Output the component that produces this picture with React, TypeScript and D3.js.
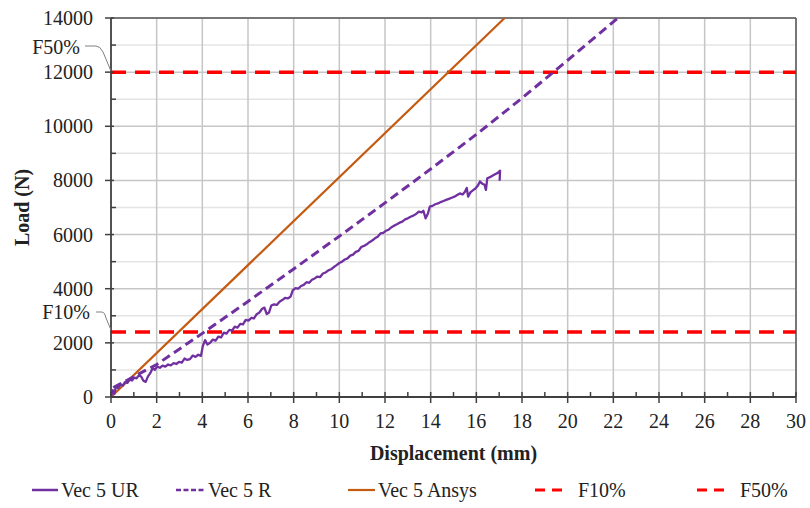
import React from "react";
import * as d3 from "d3";

// Vec 5 UR – measured load/displacement record
const urDisp = [
  0.0, 0.08, 0.15, 0.22, 0.32, 0.42, 0.52, 0.62, 0.72, 0.82, 0.92, 1.02, 1.12, 1.22, 1.32, 1.42, 1.52,
  1.62, 1.72, 1.82, 1.92, 2.02, 2.14, 2.26, 2.38, 2.5, 2.62, 2.74, 2.86, 2.98, 3.1, 3.22, 3.34, 3.46,
  3.58, 3.7, 3.82, 3.94, 4.02, 4.12, 4.22, 4.34, 4.46, 4.58, 4.7, 4.82, 4.94, 5.06, 5.18, 5.3, 5.42,
  5.54, 5.66, 5.78, 5.9, 6.02, 6.14, 6.26, 6.38, 6.5, 6.62, 6.72, 6.82, 6.92, 7.02, 7.14, 7.26, 7.38,
  7.5, 7.62, 7.74, 7.86, 7.96, 8.08, 8.2, 8.32, 8.44, 8.56, 8.68, 8.8, 8.92, 9.04, 9.16, 9.28, 9.4,
  9.52, 9.64, 9.76, 9.88, 10.0, 10.12, 10.24, 10.36, 10.48, 10.6, 10.72, 10.84, 10.96, 11.08, 11.2,
  11.32, 11.44, 11.56, 11.68, 11.8, 11.92, 12.04, 12.16, 12.28, 12.4, 12.52, 12.64, 12.76, 12.88, 13.0,
  13.12, 13.24, 13.36, 13.48, 13.6, 13.68, 13.78, 13.88, 13.96, 14.08, 14.2, 14.32, 14.44, 14.56,
  14.68, 14.8, 14.92, 15.04, 15.16, 15.28, 15.4, 15.5, 15.58, 15.64, 15.74, 15.86, 15.96, 16.06,
  16.16, 16.26, 16.36, 16.42, 16.48, 16.6, 16.72, 16.84, 16.94, 17.04, 17.02,
];
const urLoad = [
  0, 250, 120, 400, 330, 470, 420, 560, 520, 640, 610, 720, 690, 800, 760, 600, 560,
  760, 880, 1060, 1000, 1120, 1080, 1160, 1120, 1200, 1170, 1250, 1220, 1300, 1270, 1420, 1370, 1400,
  1530, 1480, 1560, 1520, 1880, 2100, 1940, 2000, 2120, 2080, 2230, 2200, 2380, 2340, 2480, 2450, 2600,
  2560, 2700, 2680, 2850, 2820, 2920, 2900, 3060, 3120, 3260, 3300, 3060, 3120, 3380, 3420, 3400, 3520,
  3580, 3660, 3640, 3700, 3940, 4020, 4000, 4100, 4140, 4240, 4220, 4330, 4380, 4450, 4430, 4560, 4600,
  4680, 4720, 4800, 4870, 4950, 5000, 5080, 5120, 5220, 5260, 5360, 5400, 5540, 5580, 5640,
  5720, 5780, 5860, 5920, 6040, 6060, 6140, 6180, 6270, 6330, 6380, 6440, 6480, 6560, 6600,
  6660, 6700, 6760, 6850, 6820, 6880, 6600, 6780, 7030, 7060, 7120, 7150, 7200, 7240,
  7280, 7320, 7360, 7400, 7460, 7520, 7480, 7580, 7720, 7400, 7560, 7640, 7700, 7800,
  7960, 7880, 7840, 7650, 8080, 8120, 8180, 8240, 8280, 8360, 7990,
];

// Vec 5 R
const rDisp = [0.1, 2, 4, 6, 8, 10, 12, 14, 16, 18, 20, 22.2];
const rLoad = [350, 1200, 2350, 3530, 4730, 5940, 7170, 8420, 9700, 11040, 12440, 14000];

// Vec 5 Ansys
const ansysDisp = [0, 17.24];
const ansysLoad = [0, 14000];

// Reference load levels
const F10 = 2400;
const F50 = 12000;

const xTicks = d3.range(0, 31, 2);
const xMinor = d3.range(1, 30, 2);
const yTicks = d3.range(0, 14001, 2000);
const yMinor = d3.range(1000, 14000, 2000);

const W = 810;
const H = 508;
const L = 111;
const R = 796;
const T = 18;
const B = 397;

const FONT = "'Liberation Serif', 'Times New Roman', serif";
const PURPLE = "#7030a0";
const ORANGE = "#c55a11";
const RED = "#ff0000";

export default function App() {
  const x = d3.scaleLinear().domain([0, 30]).range([L, R]);
  const y = d3.scaleLinear().domain([0, 14000]).range([B, T]);

  const line = d3
    .line<[number, number]>()
    .x((d) => x(d[0]))
    .y((d) => y(d[1]));

  const ur = line(urDisp.map((v, i) => [v, urLoad[i]]) as [number, number][]) || "";
  const rr = line(rDisp.map((v, i) => [v, rLoad[i]]) as [number, number][]) || "";
  const an = line(ansysDisp.map((v, i) => [v, ansysLoad[i]]) as [number, number][]) || "";

  const legend = [
    { label: "Vec 5 UR", color: PURPLE, dash: "", width: 2.5, x0: 32, x1: 58, tx: 61 },
    { label: "Vec 5 R", color: PURPLE, dash: "5,2.5", width: 2.5, x0: 176, x1: 205, tx: 208 },
    { label: "Vec 5 Ansys", color: ORANGE, dash: "", width: 2.2, x0: 348, x1: 375, tx: 378 },
    { label: "F10%", color: RED, dash: "10,7", width: 3, x0: 535, x1: 565, tx: 578 },
    { label: "F50%", color: RED, dash: "10,7", width: 3, x0: 697, x1: 727, tx: 740 },
  ];

  return (
    <svg
      width={W}
      height={H}
      style={{ position: "absolute", left: 0, top: 0, background: "#fff" }}
      fontFamily={FONT}
    >
      <defs>
        <clipPath id="plot">
          <rect x={L} y={T} width={R - L} height={B - T} />
        </clipPath>
      </defs>

      {/* grid */}
      {yMinor.map((v) => (
        <line key={"gm" + v} x1={L} x2={R} y1={y(v)} y2={y(v)} stroke="#e4e4e4" strokeWidth={1.5} />
      ))}
      {yTicks.slice(1).map((v) => (
        <line key={"gy" + v} x1={L} x2={R} y1={y(v)} y2={y(v)} stroke="#c6c6c6" strokeWidth={1.5} />
      ))}
      {xTicks.slice(1).map((v) => (
        <line key={"gx" + v} x1={x(v)} x2={x(v)} y1={T} y2={B} stroke="#c6c6c6" strokeWidth={1.5} />
      ))}

      {/* frame */}
      <line x1={L} x2={R} y1={T} y2={T} stroke="#595959" strokeWidth={1.5} />
      <line x1={R} x2={R} y1={T} y2={B} stroke="#595959" strokeWidth={1.5} />

      {/* reference levels */}
      <line x1={L} x2={R} y1={y(F10)} y2={y(F10)} stroke={RED} strokeWidth={3.5} strokeDasharray="15,9" />
      <line x1={L} x2={R} y1={y(F50)} y2={y(F50)} stroke={RED} strokeWidth={3.5} strokeDasharray="15,9" />

      {/* series */}
      <g clipPath="url(#plot)" fill="none">
        <path d={an} stroke={ORANGE} strokeWidth={2.2} />
        <path d={rr} stroke={PURPLE} strokeWidth={3} strokeDasharray="9,5" />
        <path d={ur} stroke={PURPLE} strokeWidth={2.3} strokeLinejoin="round" />
      </g>

      {/* axes */}
      <line x1={L} x2={L} y1={T} y2={B} stroke="#404040" strokeWidth={1.8} />
      <line x1={L} x2={R} y1={B} y2={B} stroke="#404040" strokeWidth={1.8} />
      {xTicks.map((v) => (
        <line key={"xt" + v} x1={x(v)} x2={x(v)} y1={B - 5} y2={B + 6} stroke="#404040" strokeWidth={1.5} />
      ))}
      {xMinor.map((v) => (
        <line key={"xm" + v} x1={x(v)} x2={x(v)} y1={B - 5} y2={B} stroke="#404040" strokeWidth={1.5} />
      ))}
      {yTicks.map((v) => (
        <line key={"yt" + v} x1={L - 6} x2={L + 3} y1={y(v)} y2={y(v)} stroke="#404040" strokeWidth={1.5} />
      ))}
      {yMinor.map((v) => (
        <line key={"ym" + v} x1={L} x2={L + 5} y1={y(v)} y2={y(v)} stroke="#404040" strokeWidth={1.5} />
      ))}

      {/* tick labels */}
      {xTicks.map((v) => (
        <text key={"xl" + v} x={x(v)} y={428} fontSize={20} textAnchor="middle" fill="#222">
          {v}
        </text>
      ))}
      {yTicks.map((v) => (
        <text key={"yl" + v} x={93} y={y(v) + 7} fontSize={20} textAnchor="end" fill="#222">
          {v}
        </text>
      ))}

      {/* axis titles */}
      <text x={(L + R) / 2} y={460} fontSize={20} fontWeight="bold" textAnchor="middle" fill="#222">
        Displacement (mm)
      </text>
      <text
        transform={`translate(29, ${(T + B) / 2}) rotate(-90)`}
        fontSize={20}
        fontWeight="bold"
        textAnchor="middle"
        fill="#222"
      >
        Load (N)
      </text>

      {/* level annotations */}
      <text x={80} y={54} fontSize={20} textAnchor="end" fill="#222">
        F50%
      </text>
      <path
        d={`M85,46 L96,46 Q100,46 103,52 L${L},${y(F50) - 1}`}
        fill="none"
        stroke="#808080"
        strokeWidth={1}
      />
      <text x={90} y={319} fontSize={20} textAnchor="end" fill="#222">
        F10%
      </text>
      <path
        d={`M96,312 L102,312 Q105,312 106,318 L${L},${y(F10) - 2}`}
        fill="none"
        stroke="#808080"
        strokeWidth={1}
      />

      {/* legend */}
      {legend.map((d) => (
        <g key={d.label}>
          <line
            x1={d.x0}
            x2={d.x1}
            y1={490}
            y2={490}
            stroke={d.color}
            strokeWidth={d.width}
            strokeDasharray={d.dash || undefined}
          />
          <text x={d.tx} y={497} fontSize={20} fill="#222">
            {d.label}
          </text>
        </g>
      ))}
    </svg>
  );
}
